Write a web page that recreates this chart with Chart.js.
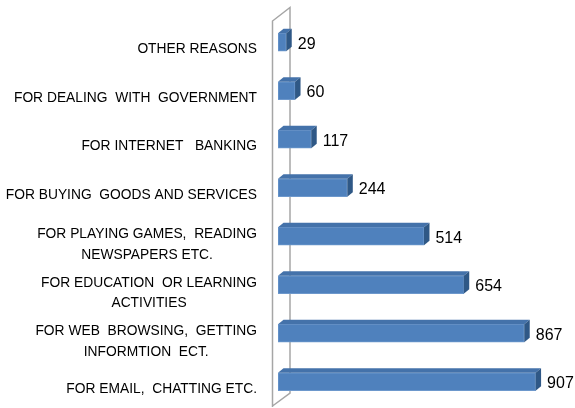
<!DOCTYPE html>
<html>
<head>
<meta charset="utf-8">
<script src="https://cdn.jsdelivr.net/npm/chart.js@4"></script>
<style>
  html, body { margin: 0; padding: 0; background: #fff; }
  #wrap { width: 575px; height: 408px; }
</style>
</head>
<body>
<div id="wrap"><canvas id="reasons"></canvas></div>
<script>
const categories = [
    'OTHER REASONS',
    'FOR DEALING  WITH  GOVERNMENT',
    'FOR INTERNET   BANKING',
    'FOR BUYING  GOODS AND SERVICES',
    ['FOR PLAYING GAMES,  READING', 'NEWSPAPERS ETC.'],
    ['FOR EDUCATION  OR LEARNING', 'ACTIVITIES'],
    ['FOR WEB  BROWSING,  GETTING', 'INFORMTION  ECT.'],
    'FOR EMAIL,  CHATTING ETC.'
];
const users = [29, 60, 117, 244, 514, 654, 867, 907];
const axisMax = 1000;

// depth of the fake 3d boxes
const DX = 5.5, DY = 4.5;
// category text is squeezed a little horizontally
const labelFont = '15px "Liberation Sans", Arial, sans-serif';
const squeeze = 0.92;
const valueFont = '16px "Liberation Sans", Arial, sans-serif';

// back wall behind the bars
const wallPlugin = {
    id: 'wall',
    beforeDatasetsDraw(chart) {
        const ctx = chart.ctx;
        const a = chart.chartArea;
        const fx = a.left - 5.5, bx = a.left + 12;
        ctx.save();
        ctx.strokeStyle = '#a6a6a6';
        ctx.lineWidth = 1.5;
        ctx.beginPath();
        ctx.moveTo(fx, a.bottom + 1);
        ctx.lineTo(fx, a.top + 3);
        ctx.lineTo(bx, a.top - 10.5);
        ctx.lineTo(bx, a.bottom - 13);
        ctx.lineTo(fx, a.bottom + 0);
        ctx.stroke();
        ctx.restore();
    }
};

// top and side faces, value labels, category labels
const boxPlugin = {
    id: 'box',
    afterDatasetsDraw(chart) {
        const ctx = chart.ctx;
        const meta = chart.getDatasetMeta(0);
        ctx.save();
        meta.data.forEach((bar, i) => {
            const x0 = bar.base, x1 = bar.x;
            const top = bar.y - bar.height / 2, bottom = bar.y + bar.height / 2;
            ctx.fillStyle = '#4472aa';
            ctx.beginPath();
            ctx.moveTo(x0, top);
            ctx.lineTo(x0 + DX, top - DY);
            ctx.lineTo(x1 + DX, top - DY);
            ctx.lineTo(x1, top);
            ctx.closePath();
            ctx.fill();
            ctx.fillStyle = '#2f5886';
            ctx.beginPath();
            ctx.moveTo(x1, top);
            ctx.lineTo(x1 + DX, top - DY);
            ctx.lineTo(x1 + DX, bottom - DY);
            ctx.lineTo(x1, bottom);
            ctx.closePath();
            ctx.fill();

            ctx.fillStyle = '#000';
            ctx.font = valueFont;
            ctx.textAlign = 'left';
            ctx.textBaseline = 'middle';
            ctx.fillText(String(users[i]), x1 + DX + 6, bar.y + 2);
        });

        const yScale = chart.scales.y;
        const right = chart.chartArea.left - 21;
        ctx.font = labelFont;
        ctx.textAlign = 'center';
        ctx.fillStyle = '#000';
        categories.forEach((label, i) => {
            const lines = Array.isArray(label) ? label : [label];
            const w = Math.max(...lines.map(l => ctx.measureText(l).width)) * squeeze;
            const cx = right - w / 2;
            const lh = 20.5;
            const cy = yScale.getPixelForTick(i) + (lines.length > 1 ? 8 : 7);
            lines.forEach((l, j) => {
                ctx.save();
                ctx.translate(cx, cy + (j - (lines.length - 1) / 2) * lh);
                ctx.scale(squeeze, 1);
                ctx.fillText(l, 0, 0);
                ctx.restore();
            });
        });
        ctx.restore();
    }
};

new Chart(document.getElementById('reasons'), {
    type: 'bar',
    data: {
        labels: categories,
        datasets: [{
            data: users,
            backgroundColor: '#4f81bd',
            borderColor: '#6d98cc',
            borderWidth: 1,
            borderSkipped: false,
            barThickness: 18
        }]
    },
    options: {
        indexAxis: 'y',
        responsive: true,
        maintainAspectRatio: false,
        animation: false,
        layout: {
            padding: { left: 278, top: 18, bottom: 2, right: 13 }
        },
        scales: {
            x: { display: false, min: 0, max: axisMax },
            y: { display: false }
        },
        plugins: {
            legend: { display: false },
            tooltip: { enabled: false }
        }
    },
    plugins: [wallPlugin, boxPlugin]
});
</script>
</body>
</html>
